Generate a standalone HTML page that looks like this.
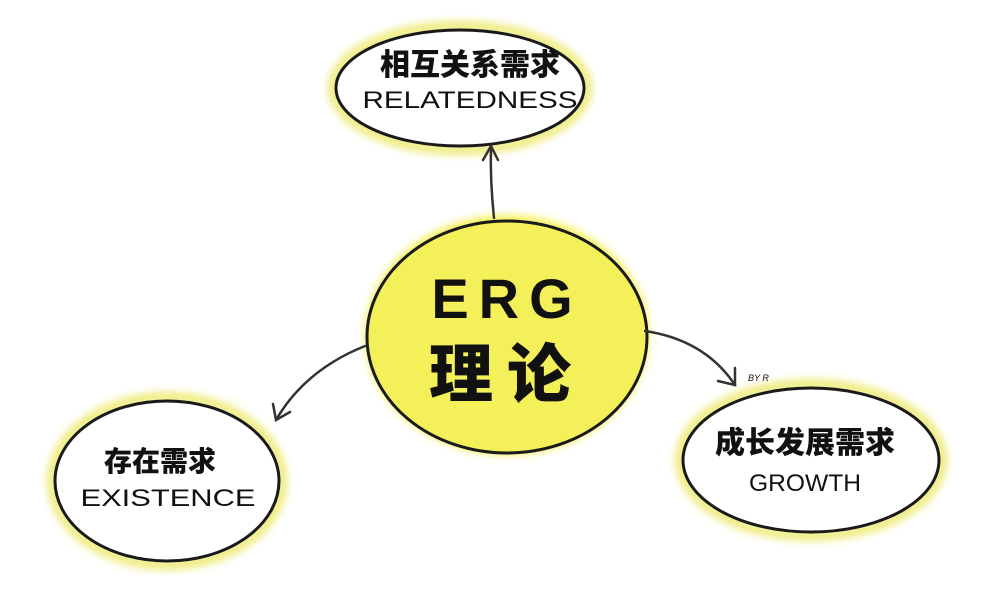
<!DOCTYPE html>
<html><head><meta charset="utf-8"><style>
body{margin:0;background:#fff;}
svg{display:block}
.cn{font-family:"Liberation Sans","Noto Sans CJK SC",sans-serif;font-weight:900;fill:#111}
.en{font-family:"Liberation Sans",sans-serif;fill:#111;font-weight:normal}
</style></head><body>
<svg width="1000" height="591" viewBox="0 0 1000 591" xmlns="http://www.w3.org/2000/svg">
<defs><filter id="b"><feGaussianBlur stdDeviation="4"/></filter></defs>
<ellipse cx="507" cy="335" rx="142" ry="120" fill="#f4f05a" filter="url(#b)"/>
<ellipse cx="507" cy="337" rx="140" ry="116" fill="#f4f05a" stroke="#1a1a1a" stroke-width="3"/>
<ellipse cx="460" cy="88" rx="127" ry="62" fill="none" stroke="#eeeb7a" stroke-width="10" filter="url(#b)"/>
<ellipse cx="460" cy="88" rx="124" ry="58" fill="#fff" stroke="#1a1a1a" stroke-width="3"/>
<ellipse cx="167" cy="481" rx="115" ry="84" fill="none" stroke="#eeeb7a" stroke-width="10" filter="url(#b)"/>
<ellipse cx="167" cy="481" rx="112" ry="80" fill="#fff" stroke="#1a1a1a" stroke-width="3"/>
<ellipse cx="811" cy="460" rx="131" ry="76" fill="none" stroke="#eeeb7a" stroke-width="10" filter="url(#b)"/>
<ellipse cx="811" cy="460" rx="128" ry="72" fill="#fff" stroke="#1a1a1a" stroke-width="3"/>
<g fill="none" stroke="#333" stroke-width="2.5" stroke-linecap="round">
<path d="M494 218 Q490 180 491 146"/>
<path d="M483 160 L491 146 L498 160"/>
<path d="M365 346 Q305 370 276 420"/>
<path d="M273 404 L276 420 L290 412"/>
<path d="M645 331 Q705 340 735 385"/>
<path d="M718 381 L735 385 L735 368"/>
</g>
<text x="748" y="381" class="en" font-size="9" font-style="italic">BY R</text>
<text x="470" y="75" text-anchor="middle" class="cn" font-size="30">相互关系需求</text>
<text x="470" y="108" text-anchor="middle" class="en" font-size="24" textLength="215" lengthAdjust="spacingAndGlyphs">RELATEDNESS</text>
<text x="507" y="318" text-anchor="middle" class="cn" font-size="56" letter-spacing="10">ERG</text>
<text x="507" y="397" text-anchor="middle" class="cn" font-size="64" letter-spacing="14">理论</text>
<text x="160" y="471" text-anchor="middle" class="cn" font-size="28">存在需求</text>
<text x="168" y="506" text-anchor="middle" class="en" font-size="24" textLength="175" lengthAdjust="spacingAndGlyphs">EXISTENCE</text>
<text x="805" y="453" text-anchor="middle" class="cn" font-size="30">成长发展需求</text>
<text x="805" y="491" text-anchor="middle" class="en" font-size="24" textLength="112" lengthAdjust="spacingAndGlyphs">GROWTH</text>
</svg>
</body></html>
